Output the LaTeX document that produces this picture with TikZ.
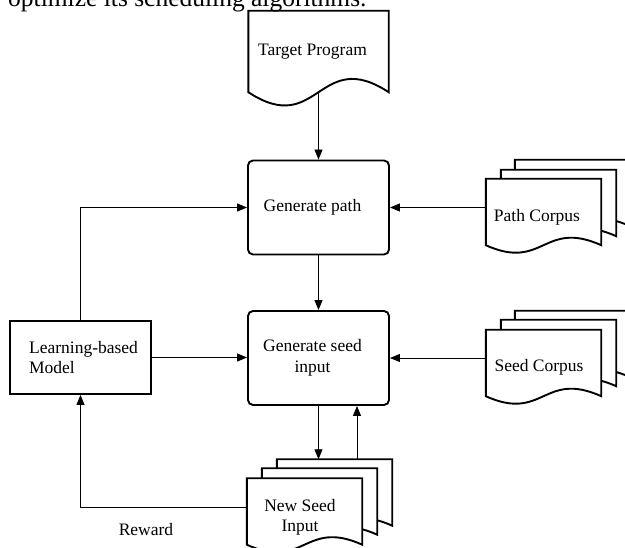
\documentclass[tikz,border=0pt]{standalone}
\usepackage{fontspec}
\setmainfont{Liberation Serif}
\usetikzlibrary{calc,arrows.meta,backgrounds}

% document outline with a wavy bottom edge around a named node
\newcommand{\docoutline}[2]{%
  \filldraw[docline] (#1.south west) -- (#1.north west) -- (#1.north east) -- (#1.south east)
    .. controls ($(#1.south)+(0,-#2)$) and ($(#1.south)+(0,#2)$) .. (#1.south west) -- cycle;}

\begin{document}
\begin{tikzpicture}[x=1pt,y=-1pt,
  every node/.style={font=\fontsize{17.5}{20.5}\selectfont},
  lbl/.style={align=center, inner sep=0pt},
  proc/.style={draw, line width=1.9pt, rounded corners=5pt, minimum width=141pt, minimum height=94pt, inner sep=0pt},
  model/.style={draw, line width=1.9pt, minimum width=141pt, minimum height=73pt, inner sep=0pt},
  doc/.style={minimum width=115pt, minimum height=66pt, inner sep=0pt},
  bigdoc/.style={minimum width=140pt, minimum height=81pt, inner sep=0pt},
  docline/.style={line width=1.9pt, fill=white, line join=miter},
  arr/.style={line width=0.9pt, -{Triangle[length=10pt,width=8pt]}}
]
\useasboundingbox (0,0) rectangle (625,548);

% running text of the page above the figure
\node[anchor=base west, inner sep=0pt, font=\fontsize{25.5}{30}\selectfont] (caption) at (8,6.5) {optimize its scheduling algorithms.};

% target program
\node[bigdoc, label={[lbl,xshift=-6pt]center:Target Program}] (tp) at (318.5,51.5) {};

% processing steps
\node[proc, label={[lbl,xshift=-6pt]center:Generate path}] (gp) at (318.5,207.5) {};
\node[proc, label={[lbl,xshift=-6pt]center:Generate seed\\input}] (gs) at (318.5,358) {};
\node[model, label={[lbl,align=left,xshift=3pt]center:Learning-based\\Model}] (lm) at (80.5,357.5) {};

% path corpus stack
\node[doc] (pcb) at (572.5,193) {};
\node[doc] (pcm) at (558.5,203) {};
\node[doc, label={[lbl,xshift=-6.5pt,yshift=-5pt]center:Path Corpus}] (pc) at (543.5,212) {};

% seed corpus stack
\node[doc] (scb) at (572.5,344) {};
\node[doc] (scm) at (558.5,353) {};
\node[doc, label={[lbl,xshift=-4.5pt,yshift=-4pt]center:Seed Corpus}] (sc) at (543.5,363) {};

% new seed input stack
\node[doc] (nsb) at (334.5,492.5) {};
\node[doc] (nsm) at (319.5,501.5) {};
\node[doc, label={[lbl,xshift=-4.5pt,yshift=-6pt]center:New Seed\\Input}] (ns) at (304.5,511.5) {};

\begin{pgfonlayer}{background}
  \docoutline{tp}{46}
  \docoutline{pcb}{26}\docoutline{pcm}{26}\docoutline{pc}{26}
  \docoutline{scb}{26}\docoutline{scm}{26}\docoutline{sc}{26}
  \docoutline{nsb}{26}\docoutline{nsm}{26}\docoutline{ns}{26}
\end{pgfonlayer}

% connectors
\draw[arr] (tp.south) -- (gp.north);
\draw[arr] (gp.south) -- (gs.north);
\draw[arr] (pc.west |- gp.east) -- (gp.east);
\draw[arr] (sc.west |- gs.east) -- (gs.east);
\draw[arr] (lm.north) |- (gp.west);
\draw[arr] (lm.east) -- (lm.east -| gs.west);
\draw[arr] (gs.south) -- (gs.south |- nsb.north);
\coordinate (ret) at ($(gs.south)+(38.5,0)$);
\draw[arr] (ret |- nsb.north) -- (ret);
\coordinate (nsout) at ($(ns.west)+(0,-4.5)$);
\draw[arr] (nsout) -| (lm.south);

\node (reward) at (146,530) {Reward};
\end{tikzpicture}
\end{document}
